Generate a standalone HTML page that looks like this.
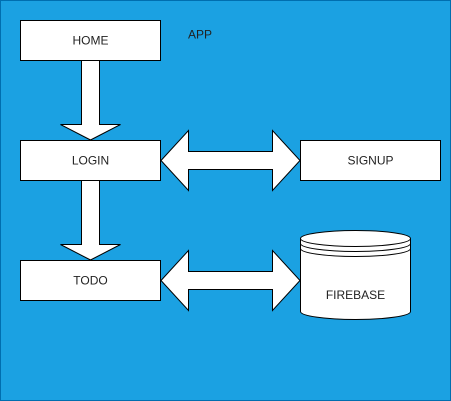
<!DOCTYPE html>
<html><head><style>html,body{margin:0;padding:0;background:#fff}</style></head><body>
<svg width="451" height="401" xmlns="http://www.w3.org/2000/svg" style="display:block">
<rect x="0.5" y="0.5" width="450" height="400" fill="#1ba1e2" stroke="#006eaf"/>
<g fill="#fff" stroke="#000" stroke-width="1">
<rect x="20.5" y="20.5" width="140" height="40"/>
<rect x="20.5" y="140.5" width="140" height="40"/>
<rect x="300.5" y="140.5" width="140" height="40"/>
<rect x="20.5" y="260.5" width="140" height="40"/>
<path d="M81.5 60.5 L99.5 60.5 L99.5 124.5 L120.5 124.5 L90.5 140 L60.5 124.5 L81.5 124.5 Z"/>
<path d="M81.5 180.5 L99.5 180.5 L99.5 244.5 L120.5 244.5 L90.5 260 L60.5 244.5 L81.5 244.5 Z"/>
<path d="M161 160.5 L188.5 130.5 L188.5 151.5 L272.5 151.5 L272.5 130.5 L300 160.5 L272.5 190.5 L272.5 169.5 L188.5 169.5 L188.5 190.5 Z"/>
<path d="M161 280.5 L188.5 250.5 L188.5 271.5 L272.5 271.5 L272.5 250.5 L300 280.5 L272.5 310.5 L272.5 289.5 L188.5 289.5 L188.5 310.5 Z"/>
<path d="M300.5 238.5 A55 8 0 0 1 410.5 238.5 L410.5 311.5 A55 8 0 0 1 300.5 311.5 Z"/>
<path d="M300.5 238.5 A55 8 0 0 0 410.5 238.5 M300.5 243.5 A55 8 0 0 0 410.5 243.5 M300.5 248.5 A55 8 0 0 0 410.5 248.5" fill="none"/>
</g>
<g font-family="Liberation Sans, sans-serif" font-size="12" fill="#222" text-anchor="middle">
<text x="90.5" y="44.5">HOME</text>
<text x="200" y="38.5">APP</text>
<text x="90.5" y="164.5">LOGIN</text>
<text x="370.5" y="164.5">SIGNUP</text>
<text x="90.5" y="284.5">TODO</text>
<text x="355.5" y="299">FIREBASE</text>
</g>
</svg>
</body></html>
